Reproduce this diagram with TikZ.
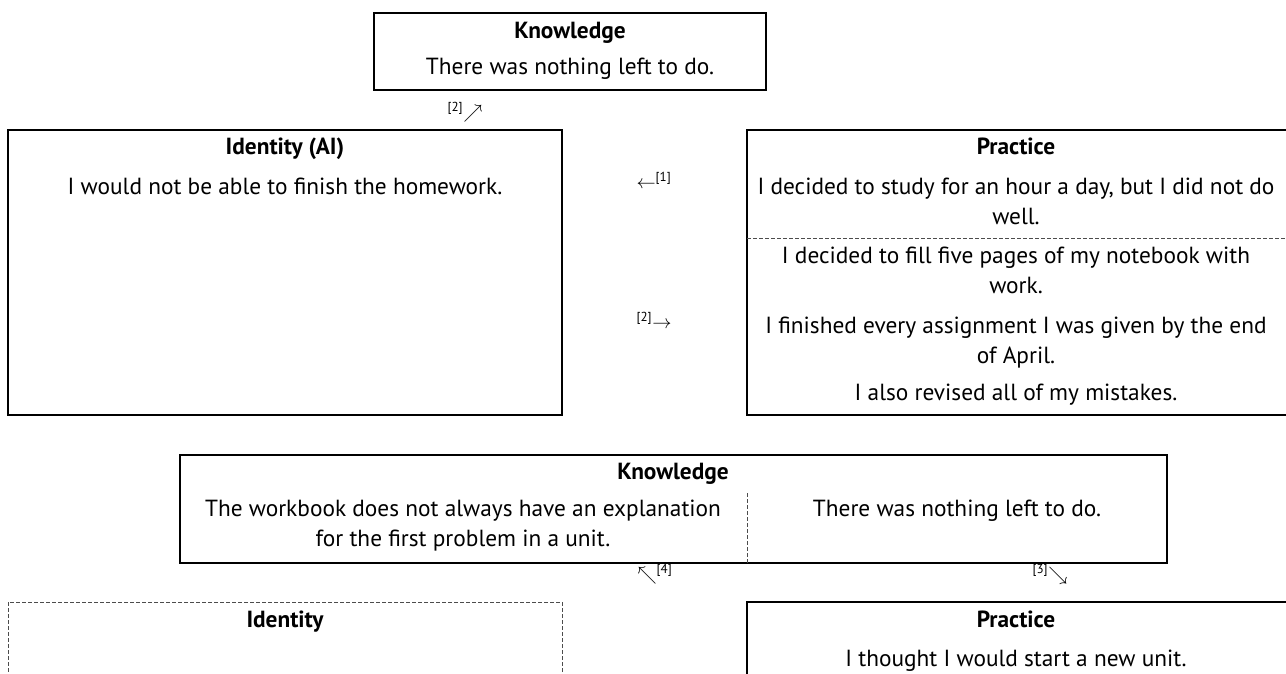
\documentclass[tikz,border=0pt]{standalone}
\usepackage{fontspec}
\setmainfont{PT Sans}
\usetikzlibrary{positioning, fit}

\begin{document}
\begin{tikzpicture}[x=0.75pt, y=-0.75pt,
    frame/.style={draw, line width=1.4pt, inner sep=0pt},
    dashframe/.style={draw, black!70, dash pattern=on 3pt off 1.5pt, line width=0.6pt, inner sep=0pt},
    divider/.style={black!70, dash pattern=on 3pt off 1.5pt, line width=0.6pt},
    head/.style={anchor=base, font=\bfseries\fontsize{17.5}{22.5}\selectfont},
    body/.style={anchor=base, align=center, font=\fontsize{17.5}{22.5}\selectfont},
    tag/.style={anchor=base, font=\fontsize{14}{18}\selectfont}]
    \useasboundingbox (0,0) rectangle (1286,674);
    \clip (0,0) rectangle (1286,674);

    % upper row
    \node [frame, fit={(374,13) (766,90)}] (know1) {};
    \node [head] (know1head) at (570,39) {Knowledge};
    \node [body] (know1text) at (570,75) {There was nothing left to do.};
    \node [tag] (tag2a) at (465,118) {\textsuperscript{[2]}$\nearrow$};

    \node [frame, fit={(8,130) (562,415)}] (ident1) {};
    \node [head] (ident1head) at (285,155) {Identity (AI)};
    \node [body] (ident1text) at (285,194) {I would not be able to finish the homework.};

    \node [tag] (tag1) at (654,188) {$\leftarrow$\textsuperscript{[1]}};
    \node [tag] (tag2b) at (654,328) {\textsuperscript{[2]}$\rightarrow$};

    \node [frame, fit={(747,130) (1300,415)}] (prac1) {};
    \node [head] (prac1head) at (1016,155) {Practice};
    % two-line nodes sit on their last line
    \node [body] (prac1a) at (1016,224) {I decided to study for an hour a day, but I did not do\\ well.};
    \coordinate (cut) at (747,238);
    \draw [divider] (cut) -- (cut -| prac1.east);
    \node [body] (prac1b) at (1016,293) {I decided to fill five pages of my notebook with\\ work.};
    \node [body] (prac1c) at (1016,363) {I finished every assignment I was given by the end\\ of April.};
    \node [body] (prac1d) at (1016,400) {I also revised all of my mistakes.};

    % lower row
    \node [frame, fit={(180,455) (1167,563)}] (know2) {};
    \node [head] (know2head) at (673,479) {Knowledge};
    \node [body] (know2a) at (463,546) {The workbook does not always have an explanation\\ for the first problem in a unit.};
    \node [body] (know2b) at (957,516) {There was nothing left to do.};
    \coordinate (split) at (747,493);
    \draw [divider] (split) -- (split |- know2.south);

    \node [tag] (tag4) at (655,580) {$\nwarrow$\textsuperscript{[4]}};
    \node [tag] (tag3) at (1050,580) {\textsuperscript{[3]}$\searrow$};

    \node [dashframe, fit={(8,602) (562,760)}] (ident2) {};
    \node [head] (ident2head) at (285,627) {Identity};

    \node [frame, fit={(747,602) (1300,760)}] (prac2) {};
    \node [head] (prac2head) at (1016,627) {Practice};
    \node [body] (prac2text) at (1016,666) {I thought I would start a new unit.};
\end{tikzpicture}
\end{document}
